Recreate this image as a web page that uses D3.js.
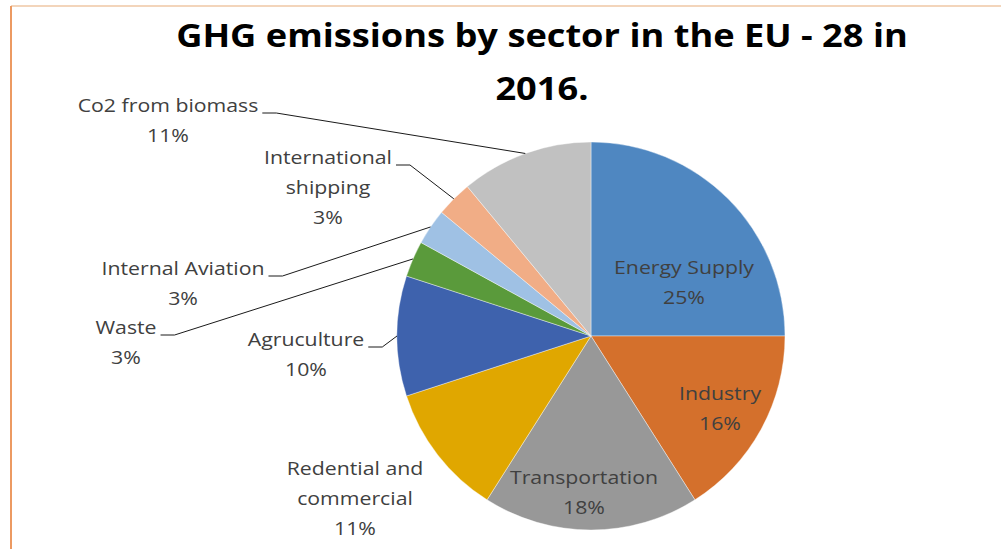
<!DOCTYPE html>
<html>
<head>
<meta charset="utf-8">
<script src="https://cdn.jsdelivr.net/npm/d3@7"></script>
<style>
  html, body { margin: 0; padding: 0; background: #fff; }
  svg { display: block; }
  text { font-family: "Open Sans", Lato, sans-serif; }
</style>
</head>
<body>
<svg id="chart" width="1001" height="549"></svg>
<script>
// Sector shares of EU-28 greenhouse gas emissions, 2016 (percent)
const sectors = ["Energy Supply", "Industry", "Transportation", "Redential and commercial",
  "Agruculture", "Waste", "Internal Aviation", "International shipping", "Co2 from biomass"];
const shares = [25, 16, 18, 11, 10, 3, 3, 3, 11];
const sliceColors = ["#4f87c1", "#d4702c", "#989898", "#e0a700", "#3e62ad",
  "#5a9a3b", "#9fc1e4", "#f1ad86", "#c1c1c1"];

// Label layout: text lines, anchor of the first line, and whether a leader line is drawn
const labelLayout = {
  "Energy Supply":            { lines: ["Energy Supply", "25%"], x: 684, y: 274, leader: false },
  "Industry":                 { lines: ["Industry", "16%"], x: 720, y: 400, leader: false },
  "Transportation":           { lines: ["Transportation", "18%"], x: 584, y: 484, leader: false },
  "Redential and commercial": { lines: ["Redential and", "commercial", "11%"], x: 355, y: 475, leader: false },
  "Agruculture":              { lines: ["Agruculture", "10%"], x: 306, y: 346, leader: true },
  "Waste":                    { lines: ["Waste", "3%"], x: 126, y: 334, leader: true },
  "Internal Aviation":        { lines: ["Internal Aviation", "3%"], x: 183, y: 275, leader: true },
  "International shipping":   { lines: ["International", "shipping", "3%"], x: 328, y: 164, leader: true },
  "Co2 from biomass":         { lines: ["Co2 from biomass", "11%"], x: 168, y: 112, leader: true }
};

const svg = d3.select("#chart");
const cx = 591, cy = 336, radius = 194;
const lineGap = 30;
const widen = 1.15;   // horizontal stretch applied to all text

// Frame edges
svg.append("line").attr("x1", 11).attr("y1", 6).attr("x2", 1001).attr("y2", 6)
  .attr("stroke", "#efc7a4").attr("stroke-width", 1.5);
svg.append("line").attr("x1", 11).attr("y1", 6).attr("x2", 11).attr("y2", 549)
  .attr("stroke", "#ec9a62").attr("stroke-width", 2);

function stretched(x) {
  return `translate(${x},0) scale(${widen},1) translate(${-x},0)`;
}

// Title
const titleX = 542;
const title = svg.append("text")
  .attr("text-anchor", "middle")
  .attr("font-weight", "bold")
  .attr("font-size", 31.5)
  .attr("fill", "#000")
  .attr("transform", stretched(titleX));
title.append("tspan").attr("x", titleX).attr("y", 47).text("GHG emissions by sector in the EU - 28 in");
title.append("tspan").attr("x", titleX).attr("y", 100).text("2016.");

const pie = d3.pie().sort(null).value(d => d.value);
const arcs = pie(sectors.map((s, i) => ({ name: s, value: shares[i], color: sliceColors[i] })));
const arc = d3.arc().innerRadius(0).outerRadius(radius);

const g = svg.append("g").attr("transform", `translate(${cx},${cy})`);
g.selectAll("path.slice")
  .data(arcs)
  .join("path")
  .attr("class", "slice")
  .attr("d", arc)
  .attr("fill", d => d.data.color)
  .attr("stroke", "#ffffff")
  .attr("stroke-width", 0.4);

// Labels
const fontSize = 18.5;
arcs.forEach(d => {
  const L = labelLayout[d.data.name];
  const t = svg.append("text")
    .attr("text-anchor", "middle")
    .attr("font-size", fontSize)
    .attr("fill", "#404040")
    .attr("transform", stretched(L.x));
  L.lines.forEach((ln, i) => {
    t.append("tspan").attr("x", L.x).attr("y", L.y + i * lineGap).text(ln);
  });
  if (L.leader) {
    // first-line width determines where the leader starts
    const firstWidth = t.select("tspan").node().getComputedTextLength() * widen;
    const sx = L.x + firstWidth / 2 + 4;
    const sy = L.y + 1;
    const mid = (d.startAngle + d.endAngle) / 2;
    const ex = cx + radius * Math.sin(mid);
    const ey = cy - radius * Math.cos(mid);
    svg.append("path")
      .attr("d", d3.line()([[sx, sy], [sx + 14, sy], [ex, ey]]))
      .attr("fill", "none")
      .attr("stroke", "#1a1a1a")
      .attr("stroke-width", 1);
  }
});
</script>
</body>
</html>
